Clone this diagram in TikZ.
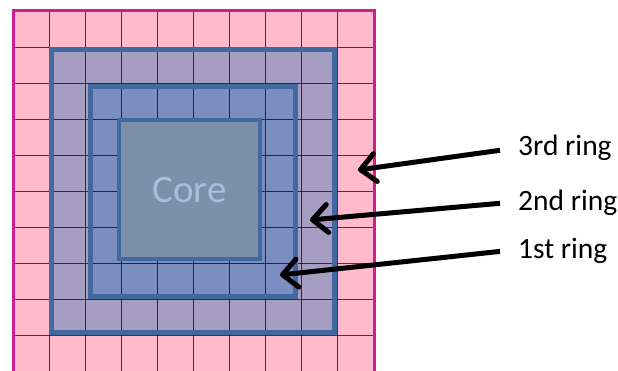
\documentclass[tikz,border=0pt]{standalone}
\usepackage{fontspec}
\setmainfont{Carlito}
\usepackage{xcolor}
\usepackage{tikz}
\usetikzlibrary{arrows.meta}
\definecolor{cellpink}{HTML}{FFBACB}
\definecolor{ringpurple}{HTML}{A69DC3}
\definecolor{ringblue}{HTML}{7B8EC0}
\definecolor{coregray}{HTML}{7C90AA}
\definecolor{edgeblue}{HTML}{4169A0}
\definecolor{edgemagenta}{HTML}{CC1F8F}
\definecolor{coretext}{HTML}{A7BFDF}

\begin{document}
\begin{tikzpicture}[x=1pt, y=-1pt,
    ringedge/.style={draw=edgeblue, line width=5pt},
    gridline/.style={draw=black, line width=1pt, opacity=0.72},
    ringlabel/.style={anchor=base west, inner sep=0pt, font=\fontsize{29.5}{34}\selectfont},
    ringarrow/.style={line width=5pt, -{Straight Barb[round, length=15pt, width=28pt]}}]
    \useasboundingbox (0,0) rectangle (618,370);

    % cells and rings
    \fill[cellpink] (13.3,11) rectangle (373.3,371);
    \fill[ringpurple] (51.8,49.5) rectangle (334.8,332.5);
    \fill[ringblue] (90,86.5) rectangle (295,296.7);
    \foreach \k in {1,...,9} {
        \draw[gridline] ({13.3+36*\k},11) -- ({13.3+36*\k},371);
        \draw[gridline] (13.3,{11+36*\k}) -- (373.3,{11+36*\k});
    }
    \draw[edgemagenta, line width=3pt] (13,10.5) rectangle (374.8,372);
    \draw[ringedge] (51.8,49.5) rectangle (334.8,332.5);
    \draw[ringedge] (90,86.5) rectangle (295,296.7);

    \node[ringedge, line width=4.5pt, fill=coregray, minimum width=141pt, minimum height=139pt,
          text=coretext, font=\fontsize{39}{44}\selectfont] (core) at (189.5,189.5) {Core};

    % labels and arrows
    \node[ringlabel] (ring3) at (518,155) {3rd ring};
    \node[ringlabel] (ring2) at (518,210) {2nd ring};
    \node[ringlabel] (ring1) at (518,258) {1st ring};
    \coordinate (tip3) at (358,170);
    \coordinate (tip2) at (310,220);
    \coordinate (tip1) at (280,275);
    \draw[ringarrow] ([xshift=-18pt, yshift=-3pt]ring3.west) -- (tip3);
    \draw[ringarrow] ([xshift=-18pt, yshift=-1pt]ring2.west) -- (tip2);
    \draw[ringarrow] ([xshift=-18pt, yshift=-1pt]ring1.west) -- (tip1);
\end{tikzpicture}
\end{document}
